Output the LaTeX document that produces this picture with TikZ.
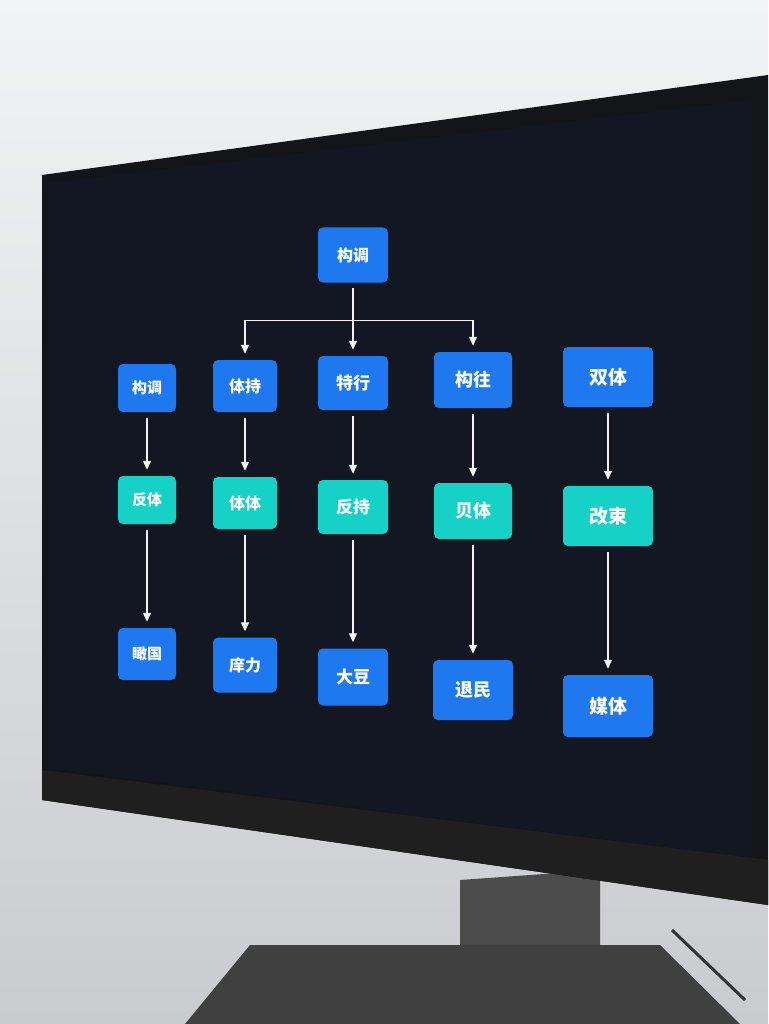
\documentclass[tikz,border=0pt]{standalone}
\usepackage{fontspec}
\newfontfamily\cjk{Noto Sans CJK SC}
\usetikzlibrary{arrows.meta}
\definecolor{bgA}{HTML}{F2F3F5}
\definecolor{bgB}{HTML}{C9CBCF}
\definecolor{bezel}{HTML}{141518}
\definecolor{scr}{HTML}{121722}
\definecolor{nblue}{HTML}{1E78F0}
\definecolor{nteal}{HTML}{16D2C6}
\tikzset{
 box/.style={rounded corners=5pt, text=white, align=center, inner sep=0pt},
 b/.style={box, fill=nblue},
 t/.style={box, fill=nteal},
 fa/.style={font=\cjk\bfseries\fontsize{15}{15}\selectfont},
 fb/.style={font=\cjk\bfseries\fontsize{16}{16}\selectfont},
 fc/.style={font=\cjk\bfseries\fontsize{17}{17}\selectfont},
 fd/.style={font=\cjk\bfseries\fontsize{18}{18}\selectfont},
 fe/.style={font=\cjk\bfseries\fontsize{19}{19}\selectfont},
 arr/.style={draw=white!90!gray, line width=1.3pt, -{Triangle[width=8pt,length=9pt]}}
}
\begin{document}
\begin{tikzpicture}[x=1pt,y=-1pt]
\useasboundingbox (0,0) rectangle (768,1024);
\shade[top color=bgA, bottom color=bgB] (0,0) rectangle (768,1024);
% stand
\fill[black!70] (460,880) -- (600,870) -- (600,1000) -- (460,1000) -- cycle;
\fill[black!75] (185,1024) -- (250,945) -- (660,945) -- (740,1024) -- cycle;
\draw[black!80, line width=3pt] (672,930) -- (745,1000);
% monitor body
\fill[bezel] (42,175) -- (768,75) -- (768,905) -- (42,800) -- cycle;
\fill[scr] (48,183) -- (752,100) -- (752,858) -- (48,768) -- cycle;
\fill[black!88] (42,770) -- (768,860) -- (768,905) -- (42,800) -- cycle;
% nodes
\node[b, fb, minimum width=70, minimum height=55] (top) at (353,255) {构调};
\node[b, fa, minimum width=58, minimum height=48] (a1) at (147,388) {构调};
\node[b, fb, minimum width=64, minimum height=52] (b1) at (245,386) {体持};
\node[b, fc, minimum width=70, minimum height=54] (c1) at (353,383) {特行};
\node[b, fd, minimum width=78, minimum height=56] (d1) at (473,380) {构往};
\node[b, fe, minimum width=90, minimum height=60] (e1) at (608,377) {双体};
\node[t, fa, minimum width=58, minimum height=48] (a2) at (147,500) {反体};
\node[t, fb, minimum width=64, minimum height=52] (b2) at (245,503) {体体};
\node[t, fc, minimum width=70, minimum height=54] (c2) at (353,507) {反持};
\node[t, fd, minimum width=78, minimum height=56] (d2) at (473,511) {贝体};
\node[t, fe, minimum width=90, minimum height=60] (e2) at (608,516) {改束};
\node[b, fa, minimum width=58, minimum height=52] (a3) at (147,654) {瞰国};
\node[b, fb, minimum width=64, minimum height=55] (b3) at (245,665) {庠力};
\node[b, fc, minimum width=70, minimum height=57] (c3) at (353,677) {大豆};
\node[b, fd, minimum width=80, minimum height=60] (d3) at (473,690) {退民};
\node[b, fe, minimum width=90, minimum height=62] (e3) at (608,706) {媒体};
% connectors
\draw[arr] ([yshift=-5]top.south) -- ([yshift=6]c1.north);
\coordinate (j) at ([yshift=-38]top.south);
\draw[arr] (j) -| ([yshift=6]b1.north);
\draw[arr] (j) -| ([yshift=6]d1.north);
\foreach \p in {a,b,c,d,e}{
  \draw[arr] ([yshift=-6]\p1.south) -- ([yshift=6]\p2.north);
  \draw[arr] ([yshift=-6]\p2.south) -- ([yshift=6]\p3.north);
}
\end{tikzpicture}
\end{document}
